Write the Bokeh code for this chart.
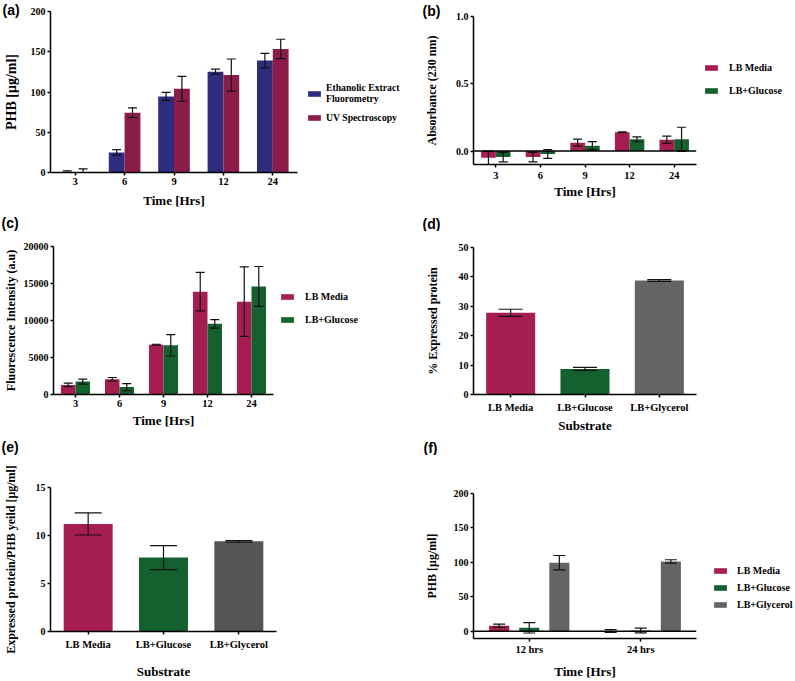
from bokeh.plotting import figure
from bokeh.models import (ColumnDataSource, Range1d, Whisker, TeeHead, Legend,
                          LegendItem, Span, FixedTicker, NumeralTickFormatter, Label, Title)
from bokeh.transform import dodge
from bokeh.layouts import column, row
from bokeh.embed import file_html
from bokeh.resources import INLINE

SERIF = "Liberation Serif"
SANS = "Liberation Sans"

BLUE = "#2e2c7c"
MAROON = "#8b1b48"
CRIMSON = "#a61d52"
GREEN = "#15602f"
GRAY = "#646464"
GRAY_E = "#555555"

# ---------------- data ----------------
# (a)
time_a = ["3", "6", "9", "12", "24"]
a_fluor = [0.5, 25, 94.5, 125.3, 139]
a_fluor_err = [1.5, 3.5, 5, 3, 9]
a_uv = [0.5, 74.3, 104, 121, 153.5]
a_uv_err = [4, 6, 15.5, 20, 12]
a_yticks = [0, 50, 100, 150, 200]
a_series = ["Ethanolic Extract\nFluorometry", "UV Spectroscopy"]

# (b)
time_b = ["3", "6", "9", "12", "24"]
b_media = [-0.05, -0.045, 0.062, 0.139, 0.084]
b_media_err = [0.05, 0.035, 0.026, 0.003, 0.027]
b_gluc = [-0.045, -0.022, 0.04, 0.087, 0.087]
b_gluc_err = [0.035, 0.033, 0.03, 0.018, 0.09]
b_yticks = [0, 0.5, 1.0]

# (c)
time_c = ["3", "6", "9", "12", "24"]
c_media = [1300, 2050, 6730, 13900, 12550]
c_media_err = [230, 250, 60, 2600, 4700]
c_gluc = [1750, 1000, 6650, 9550, 14600]
c_gluc_err = [340, 470, 1450, 580, 2700]
c_yticks = [0, 5000, 10000, 15000, 20000]

# (d)
substrates = ["LB Media", "LB+Glucose", "LB+Glycerol"]
d_expr = [27.8, 8.7, 38.8]
d_expr_err = [1.2, 0.5, 0.3]
d_yticks = [0, 10, 20, 30, 40, 50]

# (e)
e_ratio = [11.2, 7.7, 9.4]
e_ratio_err = [1.15, 1.25, 0.08]
e_yticks = [0, 5, 10, 15]

# (f)
time_f = ["12 hrs", "24 hrs"]
f_media = [8.0, 0.5]
f_media_err = [2.3, 2.0]
f_gluc = [5.0, 1.2]
f_gluc_err = [7.5, 3.5]
f_glyc = [99.5, 101.3]
f_glyc_err = [10.5, 2.5]
f_yticks = [0, 50, 100, 150, 200]

panel_tags = ["(a)", "(b)", "(c)", "(d)", "(e)", "(f)"]


def make_fig(factors, yr, w, h, bl, br, bt, bb):
    p = figure(x_range=factors, y_range=Range1d(*yr), width=w, height=h,
               min_border_left=bl, min_border_right=br, min_border_top=bt,
               min_border_bottom=bb, output_backend="svg", toolbar_location=None)
    p.frame_align = False
    p.outline_line_color = None
    p.xgrid.visible = False
    p.ygrid.visible = False
    for ax in p.axis:
        ax.axis_line_color = "black"
        ax.axis_line_width = 1.5
        ax.major_tick_line_color = "black"
        ax.major_tick_line_width = 1.5
        ax.major_tick_in = 0
        ax.major_tick_out = 3
        ax.minor_tick_in = 0
        ax.minor_tick_out = 0
        ax.major_label_text_font = SERIF
        ax.major_label_text_font_style = "bold"
        ax.major_label_text_color = "black"
        ax.axis_label_text_font = SERIF
        ax.axis_label_text_font_style = "bold"
        ax.axis_label_text_color = "black"
        ax.major_label_standoff = 2
    p.xaxis.major_label_text_font_size = "10.5px"
    p.yaxis.major_label_text_font_size = "10px"
    p.xaxis.axis_label_text_font_size = "13px"
    p.yaxis.axis_label_text_font_size = "12px"
    return p


def blank(w, h):
    s = figure(width=w, height=h, x_range=Range1d(0, w), y_range=Range1d(0, h),
               min_border=0, x_axis_type=None, y_axis_type=None,
               output_backend="svg", toolbar_location=None)
    s.frame_align = False
    s.outline_line_color = None
    return s


def strip(h, tags):
    s = blank(795, h)
    for text, x, y in tags:
        s.add_layout(Label(x=x, y=y, text=text, text_font=SANS, text_font_style="bold",
                           text_font_size="14px", text_align="left",
                           text_baseline="middle", text_color="black"))
    return s


def legend_fig(w, h, labels, colors, x, y, standoff, spacing, font="10px"):
    s = blank(w, h)
    items = []
    for lab, col in zip(labels, colors):
        # zero-size proxy glyph: only used to give the legend its swatch colour
        proxy = ColumnDataSource(dict(x=[0], top=[0]))
        r = s.vbar(x="x", top="top", bottom=0, width=0, source=proxy,
                   fill_color=col, line_color=None)
        items.append(LegendItem(label=lab, renderers=[r]))
    s.add_layout(Legend(items=items, location=(x, y), orientation="vertical",
                        padding=0, margin=0, spacing=spacing, glyph_width=16,
                        glyph_height=7, label_height=14, label_standoff=standoff,
                        border_line_color=None, background_fill_alpha=0,
                        label_text_font=SERIF, label_text_font_style="bold",
                        label_text_font_size=font, label_text_color="black"))
    return s


def whisk(src, base, hi, lo, cap):
    return Whisker(base=base, upper=hi, lower=lo, source=src, level="annotation",
                   line_color="#111111", line_width=1.2,
                   upper_head=TeeHead(size=cap, line_color="#111111", line_width=1.2),
                   lower_head=TeeHead(size=cap, line_color="#111111", line_width=1.2))


def bars(p, src, top, err, off, width, color, cap):
    x = dodge("x", off, range=p.x_range)
    r = p.vbar(x=x, top=top, bottom=0, width=width, source=src,
               fill_color=color, line_color=None)
    src.data[top + "_hi"] = [v + e for v, e in zip(src.data[top], src.data[err])]
    src.data[top + "_lo"] = [v - e for v, e in zip(src.data[top], src.data[err])]
    p.add_layout(whisk(src, dodge("x", off, range=p.x_range), top + "_hi", top + "_lo", cap))
    return r


def title_tag(p, text, offset, standoff):
    p.add_layout(Title(text=text, align="left", offset=offset, standoff=standoff,
                       vertical_align="bottom", text_font=SANS, text_font_style="bold",
                       text_font_size="14px", text_color="black"), "above")


# ---------------- (a) ----------------
pa = make_fig(time_a, (0, 200), 300, 215, 49, 3, 11, 43)
sa = ColumnDataSource(dict(x=time_a, fl=a_fluor, fle=a_fluor_err, uv=a_uv, uve=a_uv_err))
bars(pa, sa, "fl", "fle", -0.16, 0.32, BLUE, 9)
bars(pa, sa, "uv", "uve", 0.16, 0.32, MAROON, 9)
pa.yaxis.ticker = FixedTicker(ticks=a_yticks)
pa.yaxis.axis_label = "PHB [\u03bcg/ml]"
pa.yaxis.axis_label_text_font_size = "14px"
pa.yaxis.axis_label_standoff = 9
pa.xaxis.axis_label = "Time [Hrs]"
pa.xaxis.axis_label_standoff = 5
title_tag(pa, panel_tags[0], -48, -12)
la = legend_fig(112, 215, a_series, [BLUE, MAROON], 6, 91, 4, 6, font="9.7px")

# ---------------- (b) ----------------
pb = make_fig(time_b, (-0.1, 1.0), 285, 215, 61, 1, 16, 51)
sb = ColumnDataSource(dict(x=time_b, m=b_media, me=b_media_err, g=b_gluc, ge=b_gluc_err))
bars(pb, sb, "m", "me", -0.165, 0.33, CRIMSON, 9)
bars(pb, sb, "g", "ge", 0.165, 0.33, GREEN, 9)
pb.add_layout(Span(location=0, dimension="width", line_color="black", line_width=1.5))
pb.yaxis.ticker = FixedTicker(ticks=b_yticks)
pb.yaxis.formatter = NumeralTickFormatter(format="0.0")
pb.yaxis.axis_label = "Absorbance (230 nm)"
pb.yaxis.axis_label_standoff = 14
pb.xaxis.major_label_standoff = 4
pb.xaxis.axis_label = "Time [Hrs]"
pb.xaxis.axis_label_standoff = 2
title_tag(pb, panel_tags[1], -51, -4)
lb = legend_fig(98, 215, substrates[:2], [CRIMSON, GREEN], 6, 118, 10, 9)

# ---------------- strip with (c), (d) ----------------
s2 = strip(16, [(panel_tags[2], 1, 9), (panel_tags[3], 422, 8)])

# ---------------- (c) ----------------
pc = make_fig(time_c, (0, 20000), 276, 204, 51, 3, 15, 41)
sc = ColumnDataSource(dict(x=time_c, m=c_media, me=c_media_err, g=c_gluc, ge=c_gluc_err))
bars(pc, sc, "m", "me", -0.165, 0.33, CRIMSON, 9)
bars(pc, sc, "g", "ge", 0.165, 0.33, GREEN, 9)
pc.yaxis.ticker = FixedTicker(ticks=c_yticks)
pc.yaxis.formatter = NumeralTickFormatter(format="0")
pc.yaxis.axis_label = "Fluorescence Intensity (a.u)"
pc.yaxis.axis_label_standoff = 3
pc.xaxis.axis_label = "Time [Hrs]"
pc.xaxis.axis_label_standoff = 3
lc = legend_fig(124, 204, substrates[:2], [CRIMSON, GREEN], 3, 109, 10, 9)

# ---------------- (d) ----------------
pd_ = make_fig(substrates, (0, 50), 395, 204, 73, 99, 16, 41)
sd = ColumnDataSource(dict(x=substrates, v=d_expr, ve=d_expr_err,
                           c=[CRIMSON, GREEN, GRAY]))
pd_.vbar(x="x", top="v", bottom=0, width=0.66, source=sd, fill_color="c", line_color=None)
sd.data["hi"] = [v + e for v, e in zip(d_expr, d_expr_err)]
sd.data["lo"] = [v - e for v, e in zip(d_expr, d_expr_err)]
pd_.add_layout(whisk(sd, "x", "hi", "lo", 24))
pd_.yaxis.ticker = FixedTicker(ticks=d_yticks)
pd_.yaxis.axis_label = "% Expressed protein"
pd_.yaxis.axis_label_standoff = 16
pd_.xaxis.major_label_standoff = 4
pd_.xaxis.axis_label = "Substrate"
pd_.xaxis.axis_label_standoff = 2

# ---------------- strip with (e), (f) ----------------
s3 = strip(20, [(panel_tags[4], 1, 9), (panel_tags[5], 423, 8)])

# ---------------- (e) ----------------
pe = make_fig(substrates, (0, 15), 400, 226, 49, 124, 32, 47)
se = ColumnDataSource(dict(x=substrates, v=e_ratio, ve=e_ratio_err,
                           c=[CRIMSON, GREEN, GRAY_E]))
pe.vbar(x="x", top="v", bottom=0, width=0.65, source=se, fill_color="c", line_color=None)
se.data["hi"] = [v + e for v, e in zip(e_ratio, e_ratio_err)]
se.data["lo"] = [v - e for v, e in zip(e_ratio, e_ratio_err)]
pe.add_layout(whisk(se, "x", "hi", "lo", 27))
pe.yaxis.ticker = FixedTicker(ticks=e_yticks)
pe.yaxis.axis_label = "Expressed protein/PHB yeild [\u03bcg/ml]"
pe.yaxis.axis_label_standoff = 15
pe.xaxis.major_label_standoff = 4
pe.xaxis.axis_label = "Substrate"
pe.xaxis.axis_label_standoff = 11

# ---------------- (f) ----------------
pf = make_fig(time_f, (-10.5, 200), 300, 226, 73, 4, 38, 40)
sf = ColumnDataSource(dict(x=time_f, m=f_media, me=f_media_err, g=f_gluc, ge=f_gluc_err,
                           y=f_glyc, ye=f_glyc_err))
bars(pf, sf, "m", "me", -0.27, 0.18, CRIMSON, 12)
bars(pf, sf, "g", "ge", 0.0, 0.18, GREEN, 12)
bars(pf, sf, "y", "ye", 0.27, 0.18, GRAY, 12)
pf.add_layout(Span(location=0, dimension="width", line_color="black", line_width=1.5))
pf.yaxis.ticker = FixedTicker(ticks=f_yticks)
pf.yaxis.axis_label = "PHB [\u03bcg/ml]"
pf.yaxis.axis_label_standoff = 12
pf.xaxis.axis_label = "Time [Hrs]"
pf.xaxis.axis_label_standoff = 6
lf = legend_fig(95, 226, substrates, [CRIMSON, GREEN, GRAY], 12, 70, 9, 3)

layout = column(row(pa, la, pb, lb), s2, row(pc, lc, pd_), s3, row(pe, pf, lf))
open("out.html", "w").write(file_html(layout, INLINE))
